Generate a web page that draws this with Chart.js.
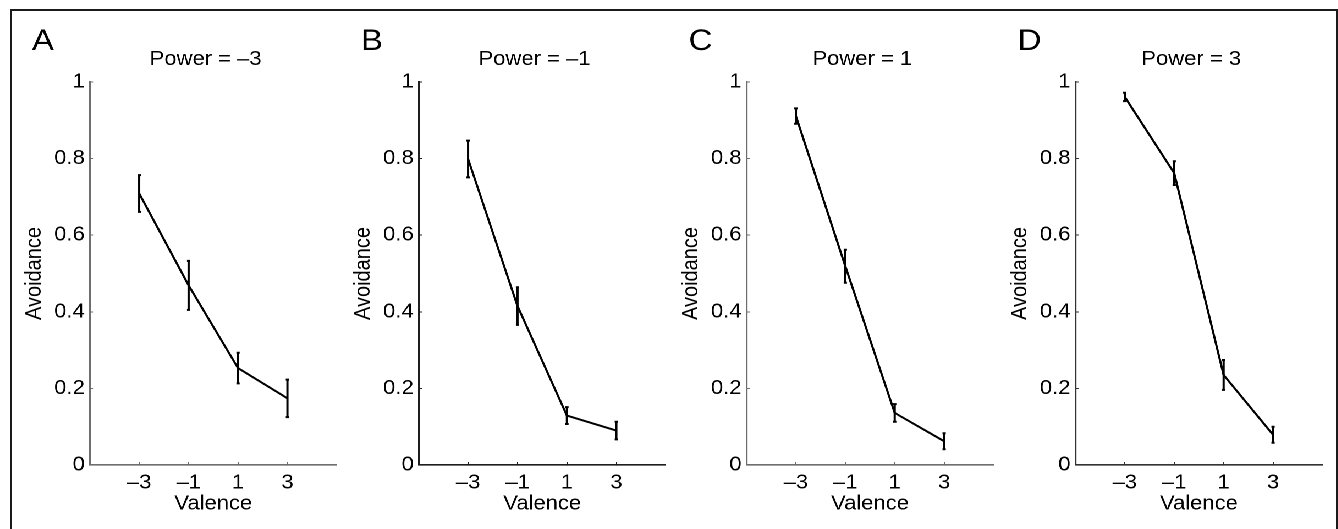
<!DOCTYPE html>
<html>
<head>
<meta charset="utf-8">
<script src="https://cdn.jsdelivr.net/npm/chart.js@4"></script>
<style>
  html, body { margin: 0; padding: 0; background: #fff; overflow: hidden; }
  body { width: 1338px; height: 529px; position: relative; }
  #frame {
    position: absolute; left: 10px; top: 9px; width: 1328px; height: 600px;
    box-sizing: border-box; border: 2px solid #1a1a1a;
  }
  #stage {
    position: absolute; left: 0; top: 0; width: 1217px; height: 529px;
    transform: scaleX(1.1); transform-origin: 0 0;
  }
  .panel { position: absolute; top: 0; }
</style>
</head>
<body>
<div id="frame"></div>
<div id="stage"></div>
<script>
  // x positions (valence) and their printed labels
  const valence = [-3, -1, 1, 3];
  const valenceLabels = ["\u20133", "\u20131", "1", "3"];
  const yTicks = [0, 0.2, 0.4, 0.6, 0.8, 1];
  const yTickLabels = ["0", "0.2", "0.4", "0.6", "0.8", "1"];

  const panelLetters = ["A", "B", "C", "D"];
  const panelTitles = ["Power = \u20133", "Power = \u20131", "Power = 1", "Power = 3"];

  // mean avoidance per valence, and error bar half-widths
  const avoidA = [0.709, 0.469, 0.253, 0.174];
  const errA   = [0.048, 0.064, 0.040, 0.049];
  const avoidB = [0.799, 0.415, 0.129, 0.090];
  const errB   = [0.048, 0.049, 0.022, 0.023];
  const avoidC = [0.911, 0.519, 0.136, 0.062];
  const errC   = [0.020, 0.043, 0.023, 0.021];
  const avoidD = [0.961, 0.762, 0.235, 0.079];
  const errD   = [0.011, 0.031, 0.039, 0.021];

  const means = [avoidA, avoidB, avoidC, avoidD];
  const errs = [errA, errB, errC, errD];
  const axisColors = ["#6e6e6e", "#1e1e1e", "#6e6e6e", "#333"];

  const STRETCH = 1.1;
  const CANVAS_W = 291, CANVAS_H = 529;
  const FONT = "'Liberation Sans', Arial, Helvetica, sans-serif";

  const errorBars = {
    id: "errorBars",
    afterDatasetsDraw(chart, args, opts) {
      const { ctx, scales: { x, y } } = chart;
      const ds = chart.data.datasets[0];
      ctx.save();
      ctx.strokeStyle = "#000";
      ctx.lineWidth = 2;
      ds.data.forEach((p, i) => {
        const px = x.getPixelForValue(p.x);
        const top = y.getPixelForValue(p.y + opts.err[i]);
        const bot = y.getPixelForValue(p.y - opts.err[i]);
        ctx.beginPath();
        ctx.moveTo(px, top); ctx.lineTo(px, bot);
        ctx.moveTo(px - 1.5, top); ctx.lineTo(px + 1.5, top);
        ctx.moveTo(px - 1.5, bot); ctx.lineTo(px + 1.5, bot);
        ctx.stroke();
      });
      ctx.restore();
    }
  };

  const panelText = {
    id: "panelText",
    afterDraw(chart, args, opts) {
      const { ctx, chartArea } = chart;
      ctx.save();
      ctx.fillStyle = "#000";
      ctx.textBaseline = "alphabetic";
      ctx.font = "30px " + FONT;
      ctx.textAlign = "left";
      ctx.fillText(opts.letter, 11, 50);
      ctx.font = "20px " + FONT;
      ctx.textAlign = "center";
      ctx.fillText(opts.title, (chartArea.left + chartArea.right) / 2 - 7, 65);
      ctx.restore();
    }
  };

  const stage = document.getElementById("stage");

  means.forEach((m, i) => {
    const wrap = document.createElement("div");
    wrap.className = "panel";
    wrap.style.left = ((20 + i * 328.33) / STRETCH) + "px";
    const cv = document.createElement("canvas");
    cv.width = CANVAS_W; cv.height = CANVAS_H;
    cv.style.width = CANVAS_W + "px"; cv.style.height = CANVAS_H + "px";
    wrap.appendChild(cv);
    stage.appendChild(wrap);

    const axisColor = axisColors[i];

    new Chart(cv, {
      type: "line",
      data: {
        datasets: [{
          data: valence.map((v, k) => ({ x: v, y: m[k] })),
          borderColor: "#000",
          borderWidth: 2,
          pointRadius: 0,
          tension: 0,
          fill: false
        }]
      },
      options: {
        responsive: false,
        animation: false,
        devicePixelRatio: 2,
        layout: { padding: { top: 82, right: 2.8, left: 0, bottom: 0 } },
        scales: {
          x: {
            type: "linear",
            min: -5,
            max: 5,
            afterBuildTicks: (s) => { s.ticks = valence.map(v => ({ value: v })); },
            afterFit: (s) => { s.height = 64; },
            ticks: {
              color: "#000",
              font: { family: FONT, size: 20 },
              padding: 9,
              maxRotation: 0,
              autoSkip: false,
              callback: (v) => valenceLabels[valence.indexOf(v)]
            },
            grid: { display: true, drawOnChartArea: false, drawTicks: true, tickLength: -3, color: axisColor, lineWidth: 1 },
            border: { display: true, color: axisColor, width: 1.6 },
            title: {
              display: true,
              text: "Valence",
              color: "#000",
              font: { family: FONT, size: 20 },
              padding: { top: 0, bottom: 13 }
            }
          },
          y: {
            min: 0,
            max: 1,
            afterBuildTicks: (s) => { s.ticks = yTicks.map(v => ({ value: v })); },
            afterFit: (s) => { s.width = 63.6; },
            ticks: {
              color: "#000",
              font: { family: FONT, size: 20 },
              padding: 7.5,
              autoSkip: false,
              callback: (v) => yTickLabels[yTicks.indexOf(v)]
            },
            grid: { display: true, drawOnChartArea: false, drawTicks: true, tickLength: -3, color: axisColor, lineWidth: 1 },
            border: { display: true, color: axisColor, width: 1.6 },
            title: {
              display: true,
              text: "Avoidance",
              color: "#000",
              font: { family: FONT, size: 20 },
              padding: { top: 1.6, bottom: 0 }
            }
          }
        },
        plugins: {
          legend: { display: false },
          tooltip: { enabled: false },
          errorBars: { err: errs[i] },
          panelText: { letter: panelLetters[i], title: panelTitles[i] }
        }
      },
      plugins: [errorBars, panelText]
    });
  });
</script>
</body>
</html>
